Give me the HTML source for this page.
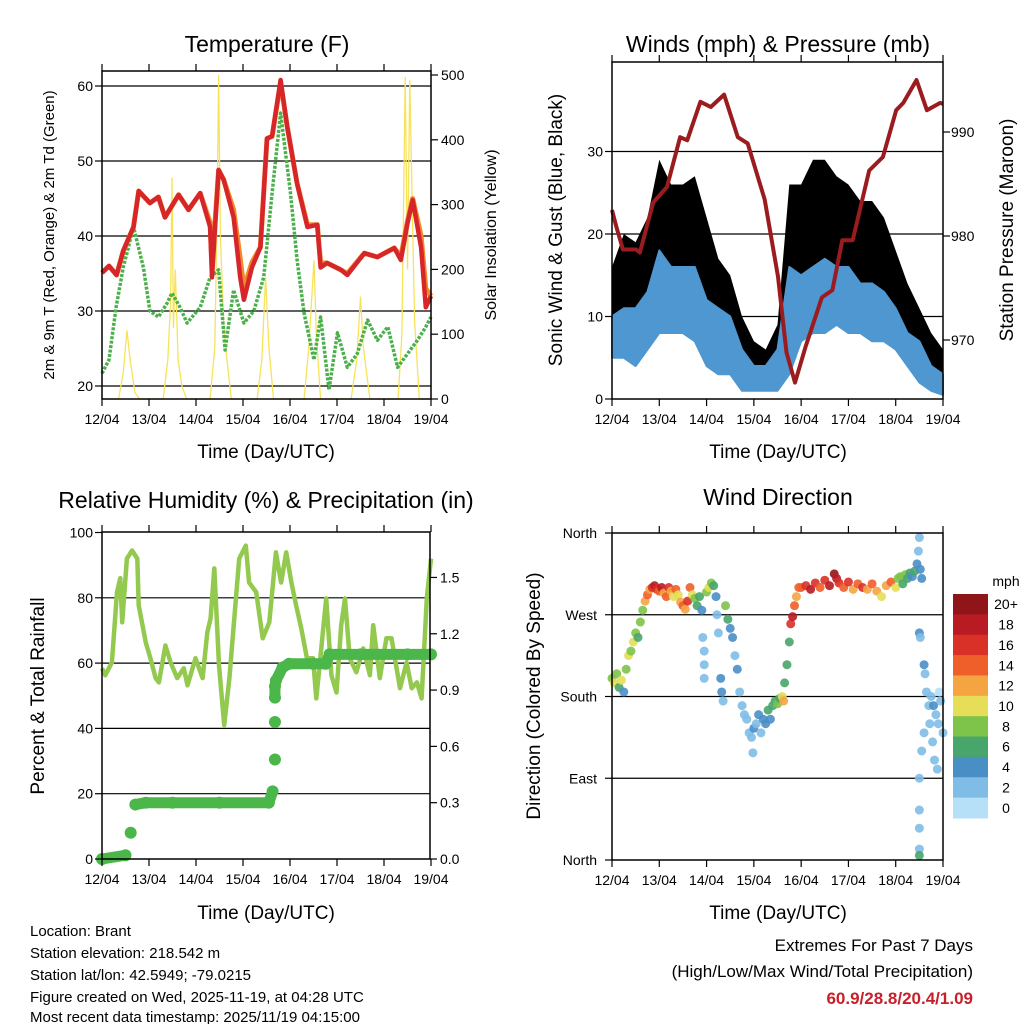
<!DOCTYPE html>
<html><head><meta charset="utf-8"><style>
html,body{margin:0;padding:0;background:#fff;}
svg{display:block;font-family:"Liberation Sans",Arial,sans-serif;}
</style></head><body>
<svg id="chart" width="1024" height="1024" viewBox="0 0 1024 1024" xmlns="http://www.w3.org/2000/svg">
<rect x="0" y="0" width="1024" height="1024" fill="#fff"/>
<g font-size="23" text-anchor="middle" fill="#000">
<text x="267" y="52">Temperature (F)</text>
<text x="778" y="52">Winds (mph) &amp; Pressure (mb)</text>
<text x="266" y="508">Relative Humidity (%) &amp; Precipitation (in)</text>
<text x="778" y="505">Wind Direction</text>
</g>
<g font-size="19" text-anchor="middle">
<text x="266" y="458">Time (Day/UTC)</text>
<text x="778" y="458">Time (Day/UTC)</text>
<text x="266" y="919">Time (Day/UTC)</text>
<text x="778" y="919">Time (Day/UTC)</text>
<text font-size="15" transform="translate(54,235) rotate(-90)">2m &amp; 9m T (Red, Orange) &amp; 2m Td (Green)</text>
<text font-size="16" transform="translate(496,235) rotate(-90)">Solar Insolation (Yellow)</text>
<text transform="translate(562,230) rotate(-90)">Sonic Wind &amp; Gust (Blue, Black)</text>
<text transform="translate(1013,230) rotate(-90)">Station Pressure (Maroon)</text>
<text transform="translate(44,696) rotate(-90)">Percent &amp; Total Rainfall</text>
<text transform="translate(540,696) rotate(-90)">Direction (Colored By Speed)</text>
</g>
<g font-size="15" fill="#000">
<text x="30" y="936">Location: Brant</text>
<text x="30" y="958">Station elevation: 218.542 m</text>
<text x="30" y="980">Station lat/lon: 42.5949; -79.0215</text>
<text x="30" y="1002">Figure created on Wed, 2025-11-19, at 04:28 UTC</text>
<text x="30" y="1024" dy="-2">Most recent data timestamp: 2025/11/19 04:15:00</text>
</g>
<g font-size="17" text-anchor="end">
<text x="973" y="951">Extremes For Past 7 Days</text>
<text x="973" y="977">(High/Low/Max Wind/Total Precipitation)</text>
<text x="973" y="1004" fill="#c8202a" font-weight="bold">60.9/28.8/20.4/1.09</text>
</g>
<g id="plots"></g>
</svg>
<script>
// ---------- data ----------
const dayLabels=['12/04','13/04','14/04','15/04','16/04','17/04','18/04','19/04'];
const tempDays=[0,0.15,0.31,0.45,0.67,0.78,1.02,1.2,1.34,1.63,1.84,2.09,2.3,2.34,2.48,2.59,2.8,2.94,3.02,3.19,3.37,3.51,3.62,3.8,3.94,4.15,4.37,4.58,4.65,4.79,5.08,5.22,5.58,5.86,6.22,6.36,6.5,6.61,6.79,6.89,7.0];
const tempRed=[35.1,36,34.8,38,41.2,46,44.4,45.2,42.5,45.5,43.5,45.7,41.2,34.5,48.8,47.5,42.5,34.5,31.5,35.8,38.5,53,53.3,60.8,54.6,47,41.2,41.5,35.8,36.4,35.5,34.8,37.7,37.2,38.4,36.8,41.7,44.8,38.5,30.5,32];
const tempOrange=[35.1,36,34.8,38,41.2,46,44.4,45.2,42.5,45.5,43.5,45.7,41.8,36,48.8,47.5,43.5,37,33,36.5,38.5,53,53.3,60.5,54.6,47,41.5,41.5,36.5,36.4,35.5,35,37.7,37.2,38.4,37.3,42,45,40,33,32];
const dewDays=[0,0.15,0.3,0.45,0.67,0.88,1.02,1.2,1.38,1.49,1.66,1.81,2.09,2.3,2.48,2.62,2.8,3.02,3.23,3.44,3.62,3.8,4.01,4.15,4.3,4.51,4.65,4.83,5.01,5.22,5.43,5.65,5.86,6.08,6.29,6.5,6.71,6.89,7.0];
const dewT=[21.7,23.5,30.5,35.8,41.2,35.8,30,29.2,31,32.4,30.5,28.4,30.5,34.5,35.5,24.8,32.8,28.4,30,34.5,45.7,56.4,45.7,36.8,29.7,23.5,29.2,19.5,27.1,22.5,24.3,28.8,26.1,27.9,22.5,24.3,26.1,27.9,29.2];
const solarDays=[0,0.35,0.45,0.53,0.6,0.7,0.8,1.3,1.4,1.46,1.49,1.52,1.56,1.62,1.7,1.8,2.3,2.4,2.45,2.48,2.52,2.6,2.75,3.3,3.4,3.48,3.55,3.65,4.3,4.4,4.51,4.56,4.65,5.3,5.42,5.5,5.56,5.7,6.3,6.38,6.45,6.5,6.55,6.6,6.65,6.75,7.0];
const solarVals=[0,0,40,106,60,10,0,0,60,150,342,110,200,60,20,0,0,80,300,500,250,100,0,0,60,188,80,0,0,80,214,100,0,0,60,158,80,0,0,100,497,200,492,300,120,0,0];
const presDays=[0,0.09,0.23,0.51,0.59,0.87,1.16,1.44,1.59,1.87,2.09,2.37,2.66,2.87,3.23,3.51,3.69,3.87,4.09,4.44,4.66,4.87,5.09,5.44,5.73,6.01,6.16,6.44,6.66,6.94,7.0];
const presVals=[982.5,980.9,978.7,978.7,978.4,983.2,984.7,989.5,989.2,992.9,992.4,993.6,989.5,988.9,983.5,976.1,968.8,965.9,969.3,974.1,974.8,979.6,979.6,986.3,987.6,992.1,992.8,995,992.1,992.8,992.7];
const windDays=[0,0.25,0.5,0.75,1,1.25,1.5,1.75,2,2.25,2.5,2.75,3,3.25,3.5,3.75,4,4.25,4.5,4.75,5,5.25,5.5,5.75,6,6.25,6.5,6.75,7];
const windLo=[5,5,4,6,8,8,8,7,4,3,3,1,1,1,1,3,7,8,8,9,8,8,7,7,6,4,2,1,0.5];
const windHi=[10,11,11,13,18,16,16,16,12,11,10,6,4,4,6,16,15,16,17,16,16,14,14,13,11,8,7,4,3];
const gustHi=[16,20,19,22,29,26,26,27,22,17,15,10,7,6,9,26,26,29,29,27,26,24,24,22,18,14,11,8,6];
const rhDays=[0,0.07,0.21,0.32,0.39,0.43,0.53,0.64,0.75,0.78,0.93,1.03,1.14,1.21,1.35,1.46,1.6,1.74,1.82,1.99,2.14,2.24,2.31,2.39,2.49,2.6,2.71,2.92,3.06,3.13,3.28,3.42,3.56,3.7,3.81,3.92,4.03,4.13,4.24,4.36,4.49,4.56,4.63,4.77,4.88,4.99,5.09,5.17,5.27,5.41,5.56,5.7,5.77,5.91,6.05,6.16,6.34,6.48,6.59,6.7,6.8,6.91,7.0];
const rhVals=[58.4,56.3,60.2,81.7,86,72.5,92,94.5,92,77.7,66.4,61.5,55.4,54.1,65.4,60.2,55.4,58.4,53.2,61.5,55.4,69.4,73.7,89,59.3,41,55.4,92,96,84.7,81.7,67.6,72.5,93.9,84.7,93.9,84.7,77.7,70.6,61.5,61.5,49.2,59.3,79.8,56.3,51,71.6,79.8,61.5,57.2,64.5,56.3,71.6,55.4,67.6,67.6,52.3,60.2,52.3,54.1,49.2,79.8,92];
const prDays=[0,0.5,0.61,0.71,0.93,1.5,2.5,3.55,3.63,3.68,3.68,3.68,3.68,3.7,3.84,3.98,4.5,4.76,4.84,5.5,6.5,7.0];
const prVals=[0,0.02,0.14,0.29,0.3,0.3,0.3,0.3,0.36,0.53,0.73,0.86,0.92,0.95,1.02,1.04,1.04,1.04,1.09,1.09,1.09,1.09];
const dirDays=[0,0.05,0.1,0.15,0.2,0.25,0.3,0.35,0.4,0.45,0.5,0.55,0.6,0.65,0.7,0.75,0.8,0.85,0.9,0.95,1.0,1.05,1.1,1.15,1.2,1.25,1.3,1.35,1.4,1.45,1.5,1.55,1.6,1.65,1.7,1.75,1.8,1.85,1.9,1.92,1.95,1.95,1.95,2.0,2.05,2.1,2.15,2.2,2.22,2.25,2.3,2.32,2.35,2.4,2.45,2.5,2.55,2.6,2.65,2.7,2.75,2.8,2.85,2.9,2.95,2.98,3.0,3.05,3.1,3.15,3.2,3.25,3.3,3.35,3.4,3.45,3.5,3.55,3.6,3.63,3.65,3.7,3.75,3.78,3.82,3.86,3.9,3.95,4.0,4.1,4.2,4.3,4.4,4.5,4.6,4.7,4.75,4.8,4.9,5.0,5.1,5.2,5.3,5.4,5.5,5.6,5.7,5.8,5.9,6.0,6.05,6.1,6.15,6.2,6.25,6.3,6.35,6.4,6.45,6.48,6.5,6.52,6.55,6.5,6.52,6.6,6.62,6.65,6.7,6.72,6.6,6.55,6.5,6.5,6.5,6.5,6.5,6.75,6.8,6.85,6.9,6.95,7.0,6.82,6.88,6.78,6.92];
const dirDeg=[200,195,205,190,198,185,210,225,230,240,250,245,262,275,285,292,298,300,302,298,296,300,294,290,300,296,290,298,292,284,280,276,285,300,292,288,280,290,275,245,230,215,200,295,300,305,302,290,270,250,200,185,175,280,265,255,245,225,210,185,170,160,155,140,135,118,145,150,160,140,155,150,165,155,170,175,172,178,180,175,195,215,240,260,268,280,290,300,300,302,298,305,300,308,302,315,310,305,300,306,298,304,300,298,304,296,290,302,306,300,310,312,304,314,310,316,312,318,326,340,355,320,310,250,245,215,205,185,170,150,140,120,90,55,35,12,5,180,170,160,150,175,140,110,100,130,185];
const dirSpd=[8,10,8,6,10,4,8,10,8,10,8,6,8,8,12,14,12,16,18,16,14,18,12,14,16,12,10,14,10,12,14,12,16,14,10,8,6,6,4,2,2,2,2,8,10,8,6,4,2,2,4,4,2,8,6,4,4,2,4,2,2,2,2,2,2,2,4,2,4,2,4,4,6,4,6,6,8,6,10,12,6,6,6,16,18,14,12,14,14,16,18,16,14,16,18,20,18,16,14,16,12,14,16,12,14,12,10,12,14,10,8,8,6,8,6,6,4,6,4,2,2,4,4,4,2,4,2,2,2,2,2,2,2,2,2,2,6,2,4,2,2,2,2,2,2,2,0];
const speedLabels=['20+','18','16','14','12','10','8','6','4','2','0'];
const speedColors=['#b5e0f7','#7fbce6','#4a8ec6','#48a56c','#7ec34a','#e6de59','#f5a442','#ef5f2a','#d93127','#b81b22','#8f1518'];

// ---------- helpers ----------
const NS='http://www.w3.org/2000/svg';
const root=document.getElementById('plots');
function mk(tag,attrs,parent){const e=document.createElementNS(NS,tag);for(const k in attrs)e.setAttribute(k,attrs[k]);(parent||root).appendChild(e);return e;}
function pts(xs,ys,fx,fy){return xs.map((d,i)=>fx(d).toFixed(1)+','+fy(ys[i]).toFixed(1)).join(' ');}

const X1=d=>102+d*329/7, X2=d=>612+d*331/7;
const yT=v=>86+(60-v)*7.5, yS=v=>399-v*0.648;
const yW=v=>399-v*8.25, yP=p=>132+(990-p)*10.4;
const yRH=v=>859-v*3.265, yPr=v=>859-v*187.7;
const yD=v=>860-v*327/360;

function frame(name){
  const g=mk('g',{});
  
  
  return g;
}
function grid(g,x0,x1,y,name){
  const l=mk('line',{x1:x0,x2:x1,y1:y,y2:y,stroke:'#000','stroke-width':1.2},g);
  
  
}
function border(g,x0,y0,x1,y1){
  const r=mk('rect',{x:x0,y:y0,width:x1-x0,height:y1-y0,fill:'none',stroke:'#000','stroke-width':1.5},g);
  
  
}
function xaxis(g,X,y0,y1){
  dayLabels.forEach((lab,i)=>{
    const x=X(i);
    const t1=mk('line',{x1:x,x2:x,y1:y1,y2:y1+7,stroke:'#000','stroke-width':1.2},g);
    
    
    const t2=mk('line',{x1:x,x2:x,y1:y0,y2:y0-7,stroke:'#000','stroke-width':1.2},g);
    
    
    const t=mk('text',{x:x,y:y1+25,'font-size':14,'text-anchor':'middle'},g);
    t.textContent=lab;
    
    
  });
}
function ylabels(g,vals,labs,fy,x,anchor,tx){
  vals.forEach((v,i)=>{
    const y=fy(v);
    const tk=mk('line',{x1:tx,x2:tx+(anchor==='end'?-7:7),y1:y,y2:y,stroke:'#000','stroke-width':1.2},g);
    
    
    const t=mk('text',{x:x,y:y+5,'font-size':14,'text-anchor':anchor},g);
    t.textContent=labs[i];
    
    
  });
}

// ---------- Panel 1: temperature ----------
{
  const g=frame('temperature-panel');
  [20,30,40,50,60].forEach(v=>grid(g,102,431,yT(v),'temp-gridline'));
  const s=mk('polyline',{points:pts(solarDays,solarVals,X1,yS),fill:'none',stroke:'#f7e35a','stroke-width':1.3},g);
  
  
  const d=mk('polyline',{points:pts(dewDays,dewT,X1,yT),fill:'none',stroke:'#4bb04b','stroke-width':3.5,'stroke-dasharray':'3 1.5','stroke-linejoin':'round'},g);
  
  
  const o=mk('polyline',{points:pts(tempDays,tempOrange,X1,yT),fill:'none',stroke:'#f28a2a','stroke-width':5,'stroke-linejoin':'round'},g);
  
  
  const r=mk('polyline',{points:pts(tempDays,tempRed,X1,yT),fill:'none',stroke:'#d7262a','stroke-width':4.5,'stroke-linejoin':'round'},g);
  
  
  border(g,102,71,431,399);
  xaxis(g,X1,71,399);
  ylabels(g,[20,30,40,50,60],['20','30','40','50','60'],yT,93,'end',102);
  ylabels(g,[0,100,200,300,400,500],['0','100','200','300','400','500'],yS,441,'start',431);
}

// ---------- Panel 2: winds ----------
{
  const g=frame('winds-panel');
  [10,20,30].forEach(v=>grid(g,612,943,yW(v),'wind-gridline'));
  const gp=windDays.map((d,i)=>X2(d).toFixed(1)+','+yW(gustHi[i]).toFixed(1)).join(' ')+' '+windDays.slice().reverse().map((d,j)=>{const i=windDays.length-1-j;return X2(d).toFixed(1)+','+yW(windLo[i]).toFixed(1);}).join(' ');
  const gb=mk('polygon',{points:gp,fill:'#000',stroke:'none'},g);
  
  
  const wp=windDays.map((d,i)=>X2(d).toFixed(1)+','+yW(windHi[i]).toFixed(1)).join(' ')+' '+windDays.slice().reverse().map((d,j)=>{const i=windDays.length-1-j;return X2(d).toFixed(1)+','+yW(windLo[i]).toFixed(1);}).join(' ');
  const wb=mk('polygon',{points:wp,fill:'#4f97d0',stroke:'#4f97d0','stroke-width':2,'stroke-linejoin':'round'},g);
  
  
  const p=mk('polyline',{points:pts(presDays,presVals,X2,yP),fill:'none',stroke:'#9b1c1f','stroke-width':4,'stroke-linejoin':'round'},g);
  
  
  border(g,612,62,943,399);
  xaxis(g,X2,62,399);
  ylabels(g,[0,10,20,30],['0','10','20','30'],yW,603,'end',612);
  ylabels(g,[970,980,990],['970','980','990'],yP,951,'start',943);
}

// ---------- Panel 3: humidity ----------
{
  const g=frame('humidity-panel');
  [20,40,60,80].forEach(v=>grid(g,102,430,yRH(v),'rh-gridline'));
  const l=mk('polyline',{points:pts(rhDays,rhVals,X1,yRH),fill:'none',stroke:'#93c94f','stroke-width':4.5,'stroke-linejoin':'round'},g);
  
  
  for(let i=0;i<prDays.length;i++){
    if(i>0 && Math.abs(prVals[i]-prVals[i-1])<0.1){
      const s=mk('line',{x1:X1(prDays[i-1]),y1:yPr(prVals[i-1]),x2:X1(prDays[i]),y2:yPr(prVals[i]),stroke:'#4bb649','stroke-width':11,'stroke-linecap':'round'},g);
      
      
    }
    const c=mk('circle',{cx:X1(prDays[i]),cy:yPr(prVals[i]),r:6,fill:'#4bb649'},g);
    
    
  }
  border(g,102,532,430,859);
  xaxis(g,X1,532,859);
  ylabels(g,[0,20,40,60,80,100],['0','20','40','60','80','100'],yRH,93,'end',102);
  ylabels(g,[0,0.3,0.6,0.9,1.2,1.5],['0.0','0.3','0.6','0.9','1.2','1.5'],yPr,440,'start',430);
}

// ---------- Panel 4: wind direction ----------
{
  const g=frame('wind-direction-panel');
  [90,180,270].forEach(v=>grid(g,612,943,yD(v),'dir-gridline'));
  for(let i=0;i<dirDays.length;i++){
    const k=Math.min(10,Math.floor(dirSpd[i]/2));
    const c=mk('circle',{cx:X2(dirDays[i]),cy:yD(dirDeg[i]),r:4.5,fill:speedColors[k],opacity:0.9},g);
    
    
  }
  border(g,612,533,943,860);
  xaxis(g,X2,533,860);
  ylabels(g,[0,90,180,270,360],['North','East','South','West','North'],yD,597,'end',612);
  const cb=mk('g',{});
  
  
  const h=224/11;
  speedLabels.forEach((lab,i)=>{
    const y=594+i*h;
    const r=mk('rect',{x:953,y:y,width:35,height:h+0.5,fill:speedColors[10-i]},cb);
    
    
    const t=mk('text',{x:1006,y:y+h/2+5,'font-size':14,'text-anchor':'middle'},cb);
    t.textContent=lab;
    
    
  });
  const u=mk('text',{x:1006,y:586,'font-size':14,'text-anchor':'middle'},cb);
  u.textContent='mph';
  
  
}
</script>
</body></html>
